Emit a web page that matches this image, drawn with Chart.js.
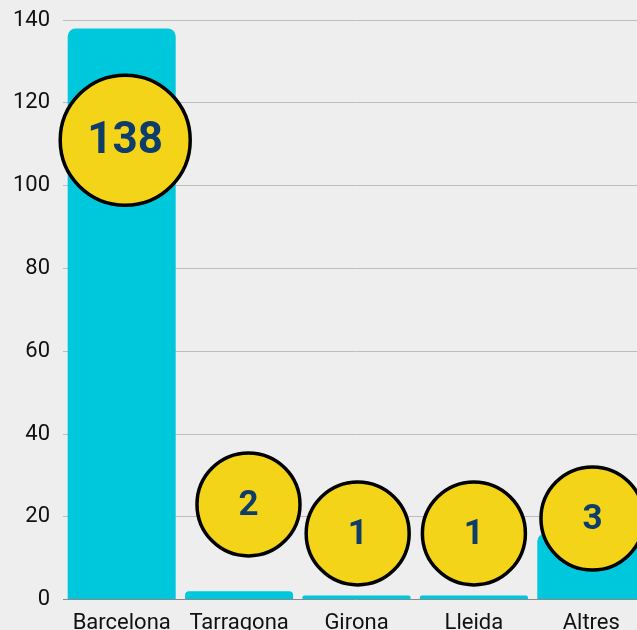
<!DOCTYPE html>
<html>
<head>
<meta charset="utf-8">
<script src="https://cdn.jsdelivr.net/npm/chart.js@4"></script>
<style>
  html, body { margin: 0; padding: 0; background: #eeeeee; overflow: hidden; }
  #wrap { width: 637px; height: 630px; overflow: hidden; position: relative; }
  #box { width: 650px; height: 660px; position: absolute; left: 0; top: -6px; }
</style>
</head>
<body>
<div id="wrap"><div id="box"><canvas id="chart"></canvas></div></div>
<script>
// chart data
const provinces = ['Barcelona', 'Tarragona', 'Girona', 'Lleida', 'Altres'];
const barValues = [138, 2, 1, 1, 16];
const circleLabels = ['138', '2', '1', '1', '3'];
// circle centres, in category index units (x) and axis units (y)
const circleX = [0.03, 1.08, 2.01, 3.0, 4.01];
const circleLevels = [111, 23, 16, 16, 19.6];
const yTicks = [0, 20, 40, 60, 80, 100, 120, 140];

const CYAN = '#00c8dc';
const YELLOW = '#f4d419';
const NAVY = '#0e3d6b';

// writes the number inside each yellow circle
const circleText = {
    id: 'circleText',
    afterDatasetsDraw(chart) {
        const meta = chart.getDatasetMeta(0);
        const ctx = chart.ctx;
        ctx.save();
        ctx.fillStyle = NAVY;
        ctx.textAlign = 'center';
        ctx.textBaseline = 'middle';
        meta.data.forEach((pt, i) => {
            const big = circleLabels[i].length > 1;
            ctx.font = 'bold ' + (big ? 44 : 35) + 'px Roboto';
            ctx.fillText(circleLabels[i], pt.x, pt.y + 2);
        });
        ctx.restore();
    }
};

const ctx = document.getElementById('chart').getContext('2d');
const chart = new Chart(ctx, {
    type: 'bar',
    data: {
        labels: provinces,
        datasets: [
            {
                type: 'bubble',
                xAxisID: 'xb',
                yAxisID: 'y',
                data: circleX.map((x, i) => ({ x: x, y: circleLevels[i] })),
                backgroundColor: YELLOW,
                borderColor: '#000',
                borderWidth: 3.5,
                radius: c => (circleLabels[c.dataIndex].length > 1 ? 65 : 51.5),
                hoverRadius: 0,
                clip: false,
                order: 0
            },
            {
                type: 'bar',
                xAxisID: 'x',
                yAxisID: 'y',
                data: barValues,
                backgroundColor: CYAN,
                borderRadius: { topLeft: 8, topRight: 8 },
                borderSkipped: 'bottom',
                grouped: false,
                barPercentage: 0.92,
                categoryPercentage: 1,
                order: 1
            }
        ]
    },
    options: {
        responsive: true,
        maintainAspectRatio: false,
        animation: false,
        events: [],
        layout: { autoPadding: false, padding: { left: 0, right: 0, top: 4, bottom: 14 } },
        plugins: {
            legend: { display: false },
            tooltip: { enabled: false }
        },
        scales: {
            x: {
                type: 'category',
                offset: true,
                grid: { display: false },
                border: { display: false },
                ticks: {
                    color: '#111',
                    font: { family: 'Roboto', size: 22 },
                    padding: 3,
                    maxRotation: 0
                }
            },
            xb: {
                type: 'linear',
                axis: 'x',
                position: 'top',
                offset: false,
                min: -0.5,
                max: provinces.length - 0.5,
                display: false
            },
            y: {
                min: 0,
                max: 140,
                afterBuildTicks: axis => { axis.ticks = yTicks.map(v => ({ value: v })); },
                afterFit: axis => { axis.width = 63; },
                border: { display: false },
                grid: {
                    drawTicks: false,
                    color: c => (c.tick && c.tick.value === 0 ? '#8a8a8a' : '#bdbdbd'),
                    lineWidth: 1
                },
                ticks: {
                    color: '#111',
                    font: { family: 'Roboto', size: 22 },
                    padding: 13
                }
            }
        }
    },
    plugins: [circleText]
});
</script>
</body>
</html>
